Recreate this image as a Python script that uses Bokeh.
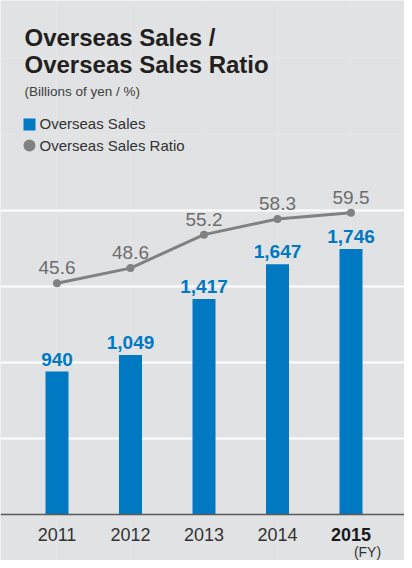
from bokeh.plotting import figure
from bokeh.models import Range1d, Label, BoxAnnotation, Grid, FixedTicker, ColumnDataSource, Span
from bokeh.core.properties import value
from bokeh.embed import file_html
from bokeh.resources import INLINE

# ---- data ----
years = [2011, 2012, 2013, 2014, 2015]
sales = [940, 1049, 1417, 1647, 1746]          # billions of yen
ratio = [45.6, 48.6, 55.2, 58.3, 59.5]         # %
grid_ticks = [500, 1000, 1500, 2000]
title_lines = ["Overseas Sales /", "Overseas Sales Ratio"]
subtitle = "(Billions of yen / %)"
legend_labels = ["Overseas Sales", "Overseas Sales Ratio"]
unit_label = "(FY)"

FONT = "Liberation Sans"
BG = "#e1e2e4"
BLUE = "#0079c2"
GRAY = "#818181"

W, H = 404, 560
BASE = 46            # pixels below the zero line
SALES_PX = 0.152     # px per billion yen
RATIO_PX = 5.07      # px per %
px_per_year = 73.5
x0 = 2010.2313

p = figure(width=W, height=H, output_backend="svg", toolbar_location=None,
           x_range=Range1d(x0, x0 + W / px_per_year),
           y_range=Range1d(-BASE / SALES_PX, (H - BASE) / SALES_PX),
           x_axis_location=None, y_axis_location=None,
           min_border_left=0, min_border_right=0, min_border_top=0,
           min_border_bottom=0)
p.extra_y_ranges = {"ratio": Range1d(-BASE / RATIO_PX, (H - BASE) / RATIO_PX)}
p.background_fill_color = BG
p.border_fill_color = BG
p.outline_line_color = None

p.add_layout(Grid(dimension=1, ticker=FixedTicker(ticks=grid_ticks),
                  grid_line_color="white", grid_line_width=2))
p.add_layout(Span(location=0, dimension="width", line_color="#5a5a5a",
                  line_width=1.5))

src = ColumnDataSource(dict(
    year=years, sales=sales, ratio=ratio,
    sales_txt=[f"{v:,}" for v in sales],
    ratio_txt=[f"{v:.1f}" for v in ratio]))

p.vbar(x="year", top="sales", bottom=0, width=23 / px_per_year, source=src,
       fill_color=BLUE, line_color=None)
p.text(x="year", y="sales", text="sales_txt", source=src, y_offset=-6,
       text_align="center", text_baseline="bottom", text_color=BLUE,
       text_font=value(FONT), text_font_size="19px", text_font_style="bold")

p.line(x="year", y="ratio", source=src, y_range_name="ratio",
       line_color=GRAY, line_width=3)
p.scatter(x="year", y="ratio", source=src, y_range_name="ratio",
          size=8, fill_color=GRAY, line_color=None)
p.text(x="year", y="ratio", text="ratio_txt", source=src, y_range_name="ratio",
       y_offset=-9, text_align="center", text_baseline="bottom",
       text_color="#6d6d6d", text_font=value(FONT), text_font_size="19px")

# year labels (x axis)
for i, yr in enumerate(years):
    last = i == len(years) - 1
    p.add_layout(Label(x=yr, y=BASE - 20, x_units="data", y_units="screen",
                       text=str(yr), text_align="center", text_baseline="middle",
                       text_font=FONT, text_font_size="18px",
                       text_font_style="bold" if last else "normal",
                       text_color="#1a1a1a" if last else "#333333"))
p.add_layout(Label(x=367, y=9, x_units="screen", y_units="screen",
                   text=unit_label, text_align="center", text_baseline="middle",
                   text_font=FONT, text_font_size="14px", text_color="#333333"))

# title block
top = H
p.add_layout(Label(x=24, y=top - 37, x_units="screen", y_units="screen",
                   text=title_lines[0], text_baseline="alphabetic",
                   text_font=FONT, text_font_size="24px", text_font_style="bold",
                   text_color="#231f20"))
p.add_layout(Label(x=24, y=top - 64, x_units="screen", y_units="screen",
                   text=title_lines[1], text_baseline="alphabetic",
                   text_font=FONT, text_font_size="24px", text_font_style="bold",
                   text_color="#231f20"))
p.add_layout(Label(x=24, y=top - 91, x_units="screen", y_units="screen",
                   text=subtitle, text_baseline="middle",
                   text_font=FONT, text_font_size="13.5px", text_color="#404040"))

# legend
p.add_layout(BoxAnnotation(left=23, right=35, top=top - 118, bottom=top - 130,
                           left_units="screen", right_units="screen",
                           top_units="screen", bottom_units="screen",
                           fill_color=BLUE, fill_alpha=1, line_color=None))
p.add_layout(BoxAnnotation(left=23, right=35, top=top - 139, bottom=top - 151,
                           left_units="screen", right_units="screen",
                           top_units="screen", bottom_units="screen",
                           fill_color=GRAY, fill_alpha=1, line_color=None,
                           border_radius=6))
p.add_layout(Label(x=39, y=top - 123, x_units="screen", y_units="screen",
                   text=legend_labels[0], text_baseline="middle",
                   text_font=FONT, text_font_size="15px", text_color="#333333"))
p.add_layout(Label(x=39, y=top - 145, x_units="screen", y_units="screen",
                   text=legend_labels[1], text_baseline="middle",
                   text_font=FONT, text_font_size="15px", text_color="#333333"))

open("out.html", "w").write(file_html(p, INLINE))
